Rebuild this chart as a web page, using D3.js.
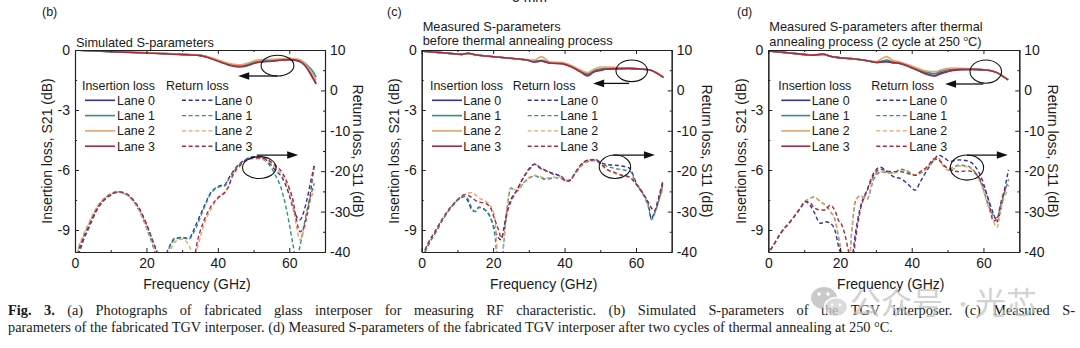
<!DOCTYPE html>
<html><head><meta charset="utf-8">
<script src="https://cdn.jsdelivr.net/npm/d3@7"></script>
<style>
body{margin:0;background:#fff}
svg{display:block}
text{font-family:"Liberation Sans",Arial,sans-serif;fill:#1a1a1a}
</style>
</head><body><svg id="c" width="1080" height="348"></svg>
<script>
// ---------- data ----------
const laneNames = ["Lane 0","Lane 1","Lane 2","Lane 3"];
const laneColors = ["#34329c","#2f9282","#e6a46a","#a52c44"];
const xTicks = [0,20,40,60];
const xMinor = [10,30,50,70];
const ilTicks = [0,-3,-6,-9];
const ilMinor = [-1.5,-4.5,-7.5];
const rlTicks = [10,0,-10,-20,-30,-40];
const rlMinor = [5,-5,-15,-25,-35];
const xDomain = [0,70], ilDomain = [-10.1,0], rlDomain = [-40,10];

// (b) simulated
const fIL_b = [0,5,10,15,20,25,30,35,38,41,44,46,48,50,52,55,58,60,62,63.5,65,66.5,67.5];
const ilB0 = [0,-0.04,-0.08,-0.11,-0.14,-0.18,-0.22,-0.27,-0.4,-0.6,-0.76,-0.8,-0.76,-0.65,-0.58,-0.55,-0.5,-0.48,-0.52,-0.62,-0.9,-1.35,-1.7];
const ilB1 = [0,-0.04,-0.08,-0.11,-0.14,-0.18,-0.22,-0.27,-0.4,-0.58,-0.74,-0.78,-0.74,-0.62,-0.56,-0.52,-0.47,-0.45,-0.47,-0.55,-0.75,-1.05,-1.35];
const ilB2 = [0,-0.03,-0.07,-0.1,-0.13,-0.17,-0.21,-0.26,-0.37,-0.55,-0.7,-0.74,-0.68,-0.55,-0.48,-0.47,-0.44,-0.42,-0.45,-0.55,-0.8,-1.2,-1.5];
const ilB3 = [0,-0.04,-0.08,-0.12,-0.15,-0.19,-0.23,-0.28,-0.42,-0.62,-0.8,-0.85,-0.8,-0.68,-0.6,-0.56,-0.5,-0.48,-0.52,-0.63,-0.92,-1.38,-1.65];
const fRL_b = [0.5,1,2,4,6,8,10,12,14,16,18,20,22,23,24,26,28,30,32,33,34,36,38,40,42,43,44,46,48,50,52,54,56,58,60,61,62,63,64,65,66,67];
const rlB0 = [-44,-41,-38,-33.8,-29.8,-27.3,-25.9,-25.2,-25.5,-26.9,-29.4,-33.2,-38,-40.5,-44,-39.5,-36.6,-36.4,-36.6,-35,-33,-29,-25.3,-23.8,-23.3,-21.8,-20.4,-18.2,-17,-16.4,-16.4,-17.6,-19.7,-21.6,-25.9,-29,-31.2,-32,-30.2,-26.8,-22.5,-18.7];
const rlB1 = [-42.5,-39.5,-37,-33,-29.3,-27,-25.7,-25.1,-25.6,-27.1,-29.8,-34,-39,-42,-44,-39.8,-36.8,-36.5,-36.8,-35.6,-33.8,-29.4,-25.6,-24,-23.6,-22,-20.6,-18.4,-17.1,-16.6,-16.8,-18,-20.8,-25,-33,-38,-42,-38.5,-34,-29.5,-26,-23];
const rlB2 = [-42,-39,-36.5,-32.5,-29,-26.8,-25.5,-25,-25.5,-27,-29.6,-33.8,-38.5,-42,-44,-41,-37.5,-36.8,-38.5,-41,-39.5,-33.5,-29.5,-26.8,-25,-23.8,-21.5,-19,-17.4,-16.9,-17,-17.5,-19,-21,-25,-28.5,-33.5,-37,-35,-31,-27,-24.5];
const rlB3 = [-44,-40,-37.5,-33.5,-29.6,-27.2,-25.8,-25.1,-25.4,-26.8,-29.2,-33,-37.8,-40,-44,-44,-44,-44,-44,-44,-38.5,-32.5,-28.8,-26.6,-25.2,-23.8,-21.3,-18.7,-17.2,-16.7,-16.7,-17.2,-18.5,-20.3,-24.2,-27,-32,-35,-34,-30.5,-25,-18];

// (c) measured, before annealing
const fIL_c = [0,3,6,9,11,13,15,18,21,24,27,29.5,31.5,33.5,36,39,42,44.5,46.5,48,50,52,55,58,61,64,66,67.7];
const ilC0 = [-0.05,-0.1,-0.14,-0.19,-0.22,-0.17,-0.24,-0.3,-0.35,-0.4,-0.45,-0.5,-0.58,-0.56,-0.65,-0.67,-0.84,-1.08,-1.26,-1.1,-1.0,-0.95,-0.93,-0.92,-0.95,-1.0,-1.17,-1.37];
const ilC1 = [-0.05,-0.1,-0.14,-0.19,-0.22,-0.18,-0.24,-0.3,-0.35,-0.4,-0.45,-0.5,-0.56,-0.52,-0.63,-0.65,-0.82,-1.05,-1.2,-1.05,-0.95,-0.92,-0.92,-0.92,-0.95,-1.0,-1.16,-1.36];
const ilC2 = [-0.05,-0.1,-0.14,-0.19,-0.22,-0.18,-0.24,-0.3,-0.35,-0.4,-0.45,-0.48,-0.5,-0.33,-0.6,-0.62,-0.78,-1.0,-1.13,-0.98,-0.85,-0.85,-0.88,-0.9,-0.95,-1.0,-1.15,-1.35];
const ilC3 = [-0.05,-0.1,-0.14,-0.19,-0.22,-0.16,-0.24,-0.3,-0.35,-0.4,-0.45,-0.5,-0.6,-0.55,-0.66,-0.68,-0.85,-1.1,-1.3,-1.12,-1.02,-0.95,-0.93,-0.92,-0.95,-1.0,-1.18,-1.38];
const fRL_c = [0.9,2,4,6,8,10,12,13,14,15,16,18,19.5,20.5,21.5,22.3,23,24,25,26.5,28.5,30.5,31.7,33,35,37,39,40.5,41.5,43,45,46.5,48.5,50.3,52,54,56,58.3,60,62,63.5,64.3,65.2,66.5,67.5];
const rlC0 = [-40,-38,-35,-31.8,-29.2,-27.2,-26.3,-27.5,-29.5,-30,-28.9,-29.8,-32,-34.6,-36.5,-37,-34,-29.5,-27,-24.9,-21.5,-18.9,-18.2,-19,-19.9,-20.6,-21.2,-22.4,-22.3,-20.4,-18.1,-17.4,-17.1,-17.9,-18.4,-18.5,-18.7,-19.3,-22.8,-25.5,-28.3,-31.8,-30,-26,-22.5];
const rlC1 = [-40,-38,-35,-31.8,-29.2,-27.2,-26.2,-27,-29,-30,-29,-29.8,-32,-36,-44,-44,-37.5,-28.5,-24.2,-25,-23,-21.5,-21.2,-21.6,-22,-21.6,-21.8,-22.4,-22.2,-20.6,-18.4,-17.6,-17.3,-18.2,-18.8,-19.3,-19.6,-20,-23,-25.8,-29,-32,-30.5,-27,-23.5];
const rlC2 = [-39.5,-37.5,-34.5,-31.5,-29,-27.1,-25.8,-25.4,-25.3,-25.8,-26.6,-27.5,-29,-31.5,-44,-44,-37,-28,-24,-24.8,-22.8,-21.3,-21,-21.3,-21.7,-21.5,-21.6,-22.2,-22,-20.4,-18.3,-17.6,-17.4,-18.5,-19.7,-20.5,-21,-21.5,-23.2,-25.8,-27.8,-29.2,-30,-27,-24.5];
const rlC3 = [-39.5,-37.5,-34.5,-31.5,-29,-27.1,-25.8,-26,-26.5,-27.2,-27.6,-28,-29.5,-32.1,-34.5,-36.5,-34.5,-30,-27.5,-25,-21.6,-19.2,-18.3,-19.2,-20,-20.8,-21.3,-22.5,-22.3,-20.3,-18,-17.3,-17.2,-18.3,-19.6,-20.3,-21,-21.5,-23.2,-25.6,-27.8,-29,-30,-26.5,-23];

// (d) measured, after annealing
const fIL_d = [0,3,6,9.8,12,15.3,17,19.1,23,26.5,30.2,31.5,33,34.5,36.7,40.4,44.2,46.5,48,49.7,51.5,53.5,57.2,60.9,63.7,65.5,66.9];
const ilD0 = [-0.05,-0.1,-0.15,-0.22,-0.25,-0.22,-0.3,-0.37,-0.43,-0.5,-0.62,-0.6,-0.57,-0.62,-0.67,-0.9,-1.2,-1.28,-1.15,-1.08,-1.02,-0.98,-0.97,-1.0,-1.12,-1.32,-1.48];
const ilD1 = [-0.05,-0.1,-0.15,-0.22,-0.25,-0.22,-0.3,-0.37,-0.43,-0.5,-0.6,-0.56,-0.5,-0.58,-0.64,-0.86,-1.12,-1.18,-1.08,-1.0,-0.96,-0.95,-0.96,-1.0,-1.12,-1.32,-1.48];
const ilD2 = [-0.05,-0.1,-0.15,-0.22,-0.25,-0.22,-0.3,-0.37,-0.43,-0.5,-0.58,-0.45,-0.33,-0.5,-0.6,-0.82,-1.05,-1.08,-1.0,-0.93,-0.9,-0.92,-0.95,-1.0,-1.12,-1.3,-1.47];
const ilD3 = [-0.05,-0.1,-0.15,-0.22,-0.26,-0.2,-0.3,-0.37,-0.43,-0.5,-0.62,-0.6,-0.58,-0.63,-0.67,-0.92,-1.22,-1.3,-1.2,-1.1,-1.0,-0.97,-0.97,-1.0,-1.13,-1.33,-1.5];
const fRL_d = [0.6,2,3.4,6.1,8.9,10.3,11.7,12.7,14.5,15.9,17.3,18.7,19.6,20.5,21.5,22.4,23.3,24.3,25.7,27.5,29.4,31.2,33.1,35,36.8,38.7,41,42.4,44.3,46.3,47.5,48.9,50.8,53.1,55.4,57.7,59.6,61.4,62.8,63.8,64.8,66,67];
const rlD0 = [-39.5,-37.5,-35.4,-32.5,-29.2,-27.5,-28.5,-30,-32.9,-32.5,-32.9,-35,-38.7,-41,-44,-44,-42,-35.4,-28.8,-24.7,-20.5,-19,-20.1,-21.4,-21.8,-23,-24.7,-22.6,-19.7,-17.1,-16,-16.6,-17.6,-17.2,-17.4,-18.8,-22,-27,-30.5,-32.5,-29.5,-24,-19.7];
const rlD1 = [-39.5,-37.5,-35.4,-32.5,-29.2,-27.5,-26.7,-26.4,-27.5,-28.4,-30,-32.3,-36.5,-41,-44,-44,-34.6,-27.5,-26,-27,-22,-20.3,-20.3,-20.4,-19.5,-20,-21,-20.5,-19.3,-17.2,-17,-18.6,-19.3,-18.5,-18.7,-20.3,-23.5,-28.5,-31,-31.5,-28.5,-25,-22];
const rlD2 = [-39.5,-37.5,-35.4,-32.5,-29.2,-27.5,-26.7,-26.3,-27.5,-28.4,-30,-32.1,-36.2,-40,-44,-44,-34.6,-27,-26.2,-27.1,-21.4,-20.1,-20.3,-20.5,-20,-19.9,-21,-20.3,-19.3,-17,-16.8,-18.9,-19.9,-18.7,-18.9,-20.5,-23.8,-29,-32.5,-33.9,-29.5,-26,-24.7];
const rlD3 = [-39.5,-37.5,-35.4,-32.5,-29.2,-27.5,-27.8,-29,-29.6,-29.6,-28.4,-30,-32.2,-33.3,-36.2,-40,-44,-37,-29.5,-25,-21,-19.5,-20,-20.1,-20.1,-20.5,-21,-20.1,-18.9,-16.9,-17.2,-18.5,-19.7,-20.1,-19.9,-20.5,-23,-27.1,-32.3,-32,-28,-24.5,-23.5];

// annotation positions in data units: [cx GHz, cy dB, rx GHz, ry dB, arrowFrom GHz, arrowTo GHz, arrowY dB]
const annIL_b = [56.7,-0.78,4.6,0.52,56.7,45.7,-1.3];
const annRL_b = [51.6,-19.1,4.7,2.7,50.9,62.5,-16];
const annIL_c = [58.8,-1.04,4.4,0.54,58.1,48.0,-1.67];
const annRL_c = [54.1,-18.9,4.4,2.9,53.6,65.3,-16];
const annIL_d = [60.65,-1.08,4.4,0.58,60.0,49.3,-1.7];
const annRL_d = [55.4,-19.1,4.65,3.1,55.4,66.8,-16];

const panelTitles_b = ["Simulated S-parameters"];
const panelTitles_c = ["Measured S-parameters","before thermal annealing process"];
const panelTitles_d = ["Measured S-parameters after thermal","annealing process (2 cycle at 250 |o|C)"];

const captionBold = "Fig. 3.";
const captionLine1 = " (a) Photographs of fabricated glass interposer for measuring RF characteristic. (b) Simulated S-parameters of the TGV interposer. (c) Measured S-";
const captionLine2 = "parameters of the fabricated TGV interposer. (d) Measured S-parameters of the fabricated TGV interposer after two cycles of thermal annealing at 250 \u00B0C.";

// ---------- layout ----------
const svg = d3.select("#c");
const plotTop = 50, plotBottom = 252;
const panels = [
  {id:"b", left:75, width:250, fIL:fIL_b, il:[ilB0,ilB1,ilB2,ilB3], fRL:fRL_b, rl:[rlB0,rlB1,rlB2,rlB3],
   label:"(b)", labelX:42, titles:panelTitles_b, titleY:[46.5], annIL:annIL_b, annRL:annRL_b,
   lt:52, rt:353, lg:[7,10,40,42,91,107,138,139.5]},
  {id:"c", left:421.7, width:250, fIL:fIL_c, il:[ilC0,ilC1,ilC2,ilC3], fRL:fRL_c, rl:[rlC0,rlC1,rlC2,rlC3],
   label:"(c)", labelX:387, titles:panelTitles_c, titleY:[31,45], annIL:annIL_c, annRL:annRL_c,
   lt:399, rt:702, lg:[8.3,10.3,40.3,41.6,91,106,138,138.6]},
  {id:"d", left:768.3, width:251, fIL:fIL_d, il:[ilD0,ilD1,ilD2,ilD3], fRL:fRL_d, rl:[rlD0,rlD1,rlD2,rlD3],
   label:"(d)", labelX:737, titles:panelTitles_d, titleY:[31,45.5], annIL:annIL_d, annRL:annRL_d,
   lt:746, rt:1048, lg:[10,13,42,43.4,103,108,140,141]}
];

const fmt = d => String(d);

panels.forEach(p => {
  const x = d3.scaleLinear().domain(xDomain).range([p.left, p.left + p.width]);
  const yL = d3.scaleLinear().domain(ilDomain).range([plotBottom, plotTop]);
  const yR = d3.scaleLinear().domain(rlDomain).range([plotBottom, plotTop]);
  const g = svg.append("g");

  const clipId = "clip-" + p.id;
  svg.append("clipPath").attr("id", clipId).append("rect")
    .attr("x", p.left).attr("y", plotTop).attr("width", p.width).attr("height", plotBottom - plotTop);

  const plot = g.append("g").attr("clip-path", `url(#${clipId})`);
  const lineRL = d3.line().x(d => x(d[0])).y(d => yR(d[1])).curve(d3.curveMonotoneX);
  const lineIL = d3.line().x(d => x(d[0])).y(d => yL(d[1])).curve(d3.curveMonotoneX);

  p.rl.forEach((vals, i) => {
    plot.append("path").datum(p.fRL.map((f, k) => [f, vals[k]]))
      .attr("d", lineRL).attr("fill", "none").attr("stroke", laneColors[i])
      .attr("stroke-width", 1.4).attr("stroke-dasharray", "4,2.6");
  });
  p.il.forEach((vals, i) => {
    plot.append("path").datum(p.fIL.map((f, k) => [f, vals[k]]))
      .attr("d", lineIL).attr("fill", "none").attr("stroke", laneColors[i])
      .attr("stroke-width", 1.6);
  });

  // axes
  const styleAxis = sel => {
    sel.selectAll("path.domain").attr("stroke", "#222").attr("stroke-width", 1.1);
    sel.selectAll(".tick line").attr("stroke", "#222").attr("stroke-width", 1);
    sel.selectAll(".tick text").style("font-family", '"Liberation Sans",Arial,sans-serif')
      .style("font-size", "14px").attr("fill", "#1a1a1a");
  };
  g.append("g").attr("transform", `translate(0,${plotBottom})`)
    .call(d3.axisBottom(x).tickValues(xTicks).tickFormat(fmt).tickSize(-4).tickSizeOuter(0).tickPadding(6)).call(styleAxis);
  g.append("g").attr("transform", `translate(0,${plotBottom})`)
    .call(d3.axisBottom(x).tickValues(xMinor).tickFormat("").tickSize(-2).tickSizeOuter(0)).call(styleAxis);
  g.append("g").attr("transform", `translate(0,${plotTop})`)
    .call(d3.axisTop(x).tickValues(xTicks).tickFormat("").tickSize(-4).tickSizeOuter(0)).call(styleAxis);
  g.append("g").attr("transform", `translate(0,${plotTop})`)
    .call(d3.axisTop(x).tickValues(xMinor).tickFormat("").tickSize(-2).tickSizeOuter(0)).call(styleAxis);
  g.append("g").attr("transform", `translate(${p.left},0)`)
    .call(d3.axisLeft(yL).tickValues(ilTicks).tickFormat(fmt).tickSize(-4).tickSizeOuter(0).tickPadding(5)).call(styleAxis);
  g.append("g").attr("transform", `translate(${p.left},0)`)
    .call(d3.axisLeft(yL).tickValues(ilMinor).tickFormat("").tickSize(-2).tickSizeOuter(0)).call(styleAxis);
  g.append("g").attr("transform", `translate(${p.left + p.width},0)`)
    .call(d3.axisRight(yR).tickValues(rlTicks).tickFormat(fmt).tickSize(-4).tickSizeOuter(0).tickPadding(5)).call(styleAxis);
  g.append("g").attr("transform", `translate(${p.left + p.width},0)`)
    .call(d3.axisRight(yR).tickValues(rlMinor).tickFormat("").tickSize(-2).tickSizeOuter(0)).call(styleAxis);

  // axis titles
  g.append("text").attr("x", p.left + p.width / 2 - 3).attr("y", 289).attr("text-anchor", "middle")
    .style("font-size", "14px").text("Frequency (GHz)");
  g.append("text").attr("transform", `translate(${p.lt},${(plotTop + plotBottom) / 2}) rotate(-90)`)
    .attr("text-anchor", "middle").style("font-size", "14px").text("Insertion loss, S21 (dB)");
  g.append("text").attr("transform", `translate(${p.rt},${(plotTop + plotBottom) / 2}) rotate(90)`)
    .attr("text-anchor", "middle").style("font-size", "14px").text("Return loss, S11 (dB)");

  // panel label and title
  g.append("text").attr("x", p.labelX).attr("y", 16).style("font-size", "12.5px").text(p.label);
  p.titles.forEach((t, i) => {
    const tx = g.append("text").attr("x", p.left + 1).attr("y", p.titleY[i]).style("font-size", "12.8px");
    const parts = t.split("|o|");
    tx.append("tspan").text(parts[0]);
    if (parts.length > 1) {
      tx.append("tspan").attr("dy", -5).style("font-size", "8px").text("o");
      tx.append("tspan").attr("dy", 5).text(parts[1]);
    }
  });

  // legend
  const L = p.lg;
  const hdrY = 89.5, rowY = [104.8, 120.1, 135.4, 150.7];
  g.append("text").attr("x", p.left + L[0]).attr("y", hdrY).style("font-size", "12.4px").text("Insertion loss");
  g.append("text").attr("x", p.left + L[4]).attr("y", hdrY).style("font-size", "12.4px").text("Return loss");
  laneNames.forEach((n, i) => {
    const yy = rowY[i];
    g.append("line").attr("x1", p.left + L[1]).attr("x2", p.left + L[2]).attr("y1", yy - 4.5).attr("y2", yy - 4.5)
      .attr("stroke", laneColors[i]).attr("stroke-width", 1.6);
    g.append("text").attr("x", p.left + L[3]).attr("y", yy).style("font-size", "12.4px").text(n);
    g.append("line").attr("x1", p.left + L[5]).attr("x2", p.left + L[6]).attr("y1", yy - 4.5).attr("y2", yy - 4.5)
      .attr("stroke", laneColors[i]).attr("stroke-width", 1.4).attr("stroke-dasharray", "4,2.6");
    g.append("text").attr("x", p.left + L[7]).attr("y", yy).style("font-size", "12.4px").text(n);
  });

  // annotations: ellipse + arrow
  const drawAnn = (a, ys) => {
    const cx = x(a[0]), cy = ys(a[1]);
    const rx = x(a[0] + a[2]) - cx, ry = Math.abs(ys(a[1] + a[3]) - cy);
    g.append("ellipse").attr("cx", cx).attr("cy", cy).attr("rx", rx).attr("ry", ry)
      .attr("fill", "none").attr("stroke", "#111").attr("stroke-width", 1.1);
    const x0 = x(a[4]), x1 = x(a[5]), yy = ys(a[6]);
    const dir = x1 > x0 ? 1 : -1;
    g.append("line").attr("x1", x0).attr("x2", x1 - dir * 8).attr("y1", yy).attr("y2", yy)
      .attr("stroke", "#111").attr("stroke-width", 1.3);
    g.append("path").attr("d", `M${x1},${yy} L${x1 - dir * 11},${yy - 3.8} L${x1 - dir * 11},${yy + 3.8} Z`)
      .attr("fill", "#111");
  };
  drawAnn(p.annIL, yL);
  drawAnn(p.annRL, yR);
});

// cut-off scale text at very top (only its lower edge shows in the source)
svg.append("text").attr("x", 512).attr("y", 1.5).style("font-size", "14px").text("5 mm");

// ---------- caption (taller glyphs, horizontally condensed like the source) ----------
const capFont = 15.2;
const serif = '"Liberation Serif","Times New Roman",serif';
const g1 = svg.append("g");
const g2 = svg.append("g");
const line1 = g1.append("text").attr("x", 0).attr("y", 0).style("font-family", serif).style("font-size", capFont + "px");
line1.append("tspan").style("font-weight", "bold").text(captionBold);
line1.append("tspan").text(captionLine1);
const line2 = g2.append("text").attr("x", 0).attr("y", 0).style("font-family", serif).style("font-size", capFont + "px")
  .text(captionLine2);
const w2 = line2.node().getComputedTextLength();
const sx = 885 / w2;
g2.attr("transform", `translate(8,332) scale(${sx},1)`);
g1.attr("transform", `translate(8,315) scale(${sx},1)`);
const w1 = line1.node().getComputedTextLength();
const nSpaces = (line1.text().match(/ /g) || []).length;
line1.attr("word-spacing", Math.max(0, (1067 / sx - w1) / nSpaces));

// ---------- watermark ----------
const wm = svg.append("g").attr("opacity", 0.75);
wm.append("ellipse").attr("cx", 824).attr("cy", 298).attr("rx", 13).attr("ry", 11).attr("fill", "#b9b9b9");
wm.append("ellipse").attr("cx", 836).attr("cy", 307).attr("rx", 11.5).attr("ry", 9.5).attr("fill", "#cfcfcf")
  .attr("stroke", "#fff").attr("stroke-width", 1.5);
wm.append("circle").attr("cx", 819).attr("cy", 294).attr("r", 1.8).attr("fill", "#fff");
wm.append("circle").attr("cx", 828).attr("cy", 294).attr("r", 1.8).attr("fill", "#fff");
wm.append("circle").attr("cx", 832).attr("cy", 305).attr("r", 1.4).attr("fill", "#fff");
wm.append("circle").attr("cx", 840).attr("cy", 305).attr("r", 1.4).attr("fill", "#fff");
wm.append("text").attr("x", 850).attr("y", 314).style("font-family", '"Noto Sans CJK SC",sans-serif')
  .style("font-size", "31px").style("fill", "#c4c4c4").text("公众号");
wm.append("text").attr("x", 952).attr("y", 312).style("font-family", '"Noto Sans CJK SC",sans-serif')
  .style("font-size", "22px").style("fill", "#c4c4c4").text("·");
wm.append("text").attr("x", 975).attr("y", 314).style("font-family", '"Noto Sans CJK SC",sans-serif')
  .style("font-size", "31px").style("fill", "#c4c4c4").text("光芯");
</script></body></html>
